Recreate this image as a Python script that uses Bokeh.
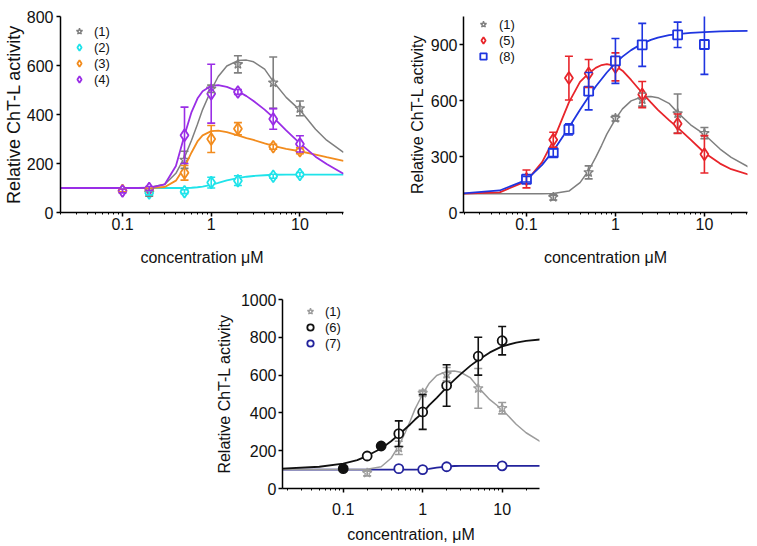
from bokeh.plotting import figure
from bokeh.models import (Range1d, ColumnDataSource, Whisker, TeeHead, Legend, LegendItem,
                          FixedTicker, SingleIntervalTicker, Spacer)
from bokeh.layouts import column, row
from bokeh.embed import file_html
from bokeh.resources import INLINE

FONT = "Liberation Sans"

# ---------------- data ----------------
# sample positions of fitted curves (concentration, uM)
curve_x = [0.017, 0.05, 0.1, 0.15, 0.2, 0.3, 0.4, 0.5, 0.6, 0.7, 0.8, 1, 1.2, 1.5, 2, 2.5, 3, 4, 5, 7, 10, 15, 20, 31]

curve_1 = [100, 100, 100, 100, 102, 115, 160, 225, 295, 360, 420, 500, 555, 598, 620, 622, 615, 585, 535, 470, 418, 340, 295, 245]
curve_2 = [100, 100, 100, 100, 100, 100, 100, 100, 101, 103, 106, 113, 121, 131, 140, 146, 149, 152, 154, 155, 155, 155, 155, 155]
curve_3 = [100, 100, 100, 100, 100, 104, 130, 185, 245, 290, 315, 332, 334, 328, 315, 304, 296, 282, 272, 260, 250, 236, 226, 211]
curve_4 = [100, 100, 100, 100, 101, 115, 190, 315, 410, 465, 495, 517, 520, 513, 495, 475, 455, 420, 388, 335, 282, 228, 198, 158]
curve_5 = [100, 108, 168, 270, 385, 590, 700, 745, 775, 790, 795, 785, 760, 710, 640, 590, 550, 495, 455, 390, 320, 262, 232, 204]
curve_8 = [100, 118, 175, 255, 330, 455, 550, 620, 675, 715, 750, 800, 835, 870, 905, 925, 937, 950, 956, 962, 966, 970, 972, 973]
curve_6 = [105, 115, 132, 150, 173, 212, 250, 285, 315, 340, 365, 400, 440, 480, 535, 575, 605, 650, 680, 720, 752, 772, 781, 789]
curve_7 = [100, 100, 100, 100, 100, 100, 100, 100, 100, 100, 100, 101, 104, 110, 116, 119, 120, 120, 120, 120, 120, 120, 120, 120]

s1_x = [0.2, 0.5, 1, 2, 5, 10]
s1_y = [82, 215, 505, 605, 530, 425]
s1_err = [15, 35, 15, 35, 105, 30]

s2_x = [0.2, 0.5, 1, 2, 5, 10]
s2_y = [80, 85, 122, 130, 148, 155]
s2_err = [8, 8, 22, 20, 8, 8]

s3_x = [0.1, 0.2, 0.5, 1, 2, 5, 10]
s3_y = [90, 95, 162, 300, 342, 268, 252]
s3_err = [5, 5, 30, 55, 25, 10, 12]

s4_x = [0.1, 0.2, 0.5, 1, 2, 5, 10]
s4_y = [88, 98, 315, 485, 492, 382, 280]
s4_err = [8, 8, 115, 120, 10, 42, 33]

s5_x = [0.1, 0.2, 0.3, 0.5, 1, 2, 5, 10]
s5_y = [180, 390, 720, 745, 780, 632, 476, 312]
s5_err = [48, 40, 117, 75, 75, 70, 52, 100]

s8_x = [0.1, 0.2, 0.3, 0.5, 1, 2, 5, 10]
s8_y = [178, 320, 445, 650, 812, 898, 952, 900]
s8_err = [15, 20, 30, 100, 120, 115, 68, 160]

s6_x = [0.1, 0.2, 0.3, 0.5, 1, 2, 5, 10]
s6_y = [105, 172, 225, 290, 405, 545, 700, 782]
s6_err = [0, 0, 0, 68, 92, 110, 100, 75]
s6_filled = [True, False, True, False, False, False, False, False]

s7_x = [0.5, 1, 2, 10]
s7_y = [105, 100, 115, 120]

x_tick_labels = {0.1: "0.1", 1: "1", 10: "10"}

GRAY = "#7f7f7f"
LGRAY = "#9c9c9c"
CYAN = "#1fe3ea"
ORANGE = "#f28c1e"
PURPLE = "#9a2ee6"
RED = "#e8252b"
BLUE = "#1f35e0"
NAVY = "#23239c"
BLACK = "#111111"


def make_fig(width, height, xr, yr, ytick, mb, xlabel, xl_standoff, xt_standoff,
             yl_standoff, yt_standoff, ylabel_size="16px"):
    p = figure(width=width, height=height, x_axis_type="log",
               x_range=Range1d(*xr), y_range=Range1d(*yr),
               output_backend="svg", toolbar_location=None,
               min_border_left=mb[0], min_border_right=mb[1],
               min_border_top=mb[2], min_border_bottom=mb[3])
    p.outline_line_color = None
    p.xgrid.visible = False
    p.ygrid.visible = False
    p.background_fill_color = "white"
    p.border_fill_color = "white"
    minor = [k * 10.0 ** e for e in (-2, -1, 0, 1) for k in range(2, 10)]
    p.xaxis.ticker = FixedTicker(ticks=[0.1, 1, 10], minor_ticks=minor)
    p.xaxis.major_label_overrides = x_tick_labels
    p.yaxis.ticker = SingleIntervalTicker(interval=ytick, num_minor_ticks=0)
    for ax in (p.xaxis[0], p.yaxis[0]):
        ax.axis_line_width = 1.5
        ax.axis_line_color = "black"
        ax.major_tick_line_width = 1.5
        ax.major_tick_line_color = "black"
        ax.minor_tick_line_color = "black"
        ax.minor_tick_line_width = 1
        ax.major_tick_in = 0
        ax.major_tick_out = 4
        ax.minor_tick_in = 0
        ax.minor_tick_out = 2
        ax.major_label_text_font = FONT
        ax.major_label_text_font_size = "16px"
        ax.major_label_text_color = "#111111"
        ax.axis_label_text_font = FONT
        ax.axis_label_text_font_size = "16px"
        ax.axis_label_text_font_style = "normal"
        ax.axis_label_text_color = "#111111"
    p.yaxis.axis_label_text_font_size = ylabel_size
    p.xaxis.axis_label = xlabel
    p.yaxis.axis_label = "Relative ChT-L activity"
    p.xaxis.major_label_standoff = xt_standoff
    p.xaxis.axis_label_standoff = xl_standoff
    p.yaxis.major_label_standoff = yt_standoff
    p.yaxis.axis_label_standoff = yl_standoff
    return p


def series(p, cy, xs, ys, errs, color, marker, size, lw=1.8, curve_lw=1.8, fill="white", filled_mask=None):
    p.line(curve_x, cy, line_color=color, line_width=curve_lw)
    bx = [x for x, e in zip(xs, errs) if e > 0]
    bu = [y + e for y, e in zip(ys, errs) if e > 0]
    bl = [y - e for y, e in zip(ys, errs) if e > 0]
    src = ColumnDataSource(dict(x=bx, upper=bu, lower=bl))
    w = Whisker(source=src, base="x", upper="upper", lower="lower", dimension="height",
                line_color=color, line_width=1.6, level="glyph",
                upper_head=TeeHead(size=8, line_color=color, line_width=1.6),
                lower_head=TeeHead(size=8, line_color=color, line_width=1.6))
    p.add_layout(w)
    if filled_mask is None:
        r = p.scatter(xs, ys, marker=marker, size=size, line_color=color, line_width=lw, fill_color=fill)
        return r
    hx = [x for x, f in zip(xs, filled_mask) if not f]
    hy = [y for y, f in zip(ys, filled_mask) if not f]
    fx = [x for x, f in zip(xs, filled_mask) if f]
    fy = [y for y, f in zip(ys, filled_mask) if f]
    p.scatter(fx, fy, marker=marker, size=size, line_color=color, line_width=lw, fill_color=color)
    r = p.scatter(hx, hy, marker=marker, size=size, line_color=color, line_width=lw, fill_color=fill)
    return r


def add_legend(p, items, loc, standoff, pitch=16):
    lg = Legend(items=[LegendItem(label=l, renderers=[r]) for l, r in items],
                location=loc, orientation="vertical", padding=0, margin=0,
                spacing=0, glyph_width=pitch, glyph_height=pitch, label_height=pitch,
                label_standoff=standoff, label_text_font=FONT, label_text_font_size="13px",
                label_text_color="#111111", background_fill_alpha=0, border_line_alpha=0)
    p.add_layout(lg)


# ---------------- panel 1 ----------------
p1 = make_fig(378, 270, (0.02, 31), (0, 800), 200, (59, 35, 16, 58),
              "concentration \u03bcM", 16, 1, 0, 3, ylabel_size="18px")
r1 = series(p1, curve_1, s1_x, s1_y, s1_err, GRAY, "star", 10, lw=1.3, curve_lw=1.5)
r2 = series(p1, curve_2, s2_x, s2_y, s2_err, CYAN, "diamond", 12)
r3 = series(p1, curve_3, s3_x, s3_y, s3_err, ORANGE, "diamond", 12)
r4 = series(p1, curve_4, s4_x, s4_y, s4_err, PURPLE, "diamond", 12)
add_legend(p1, [("(1)", r1), ("(2)", r2), ("(3)", r3), ("(4)", r4)], (11, 125), 7)

# ---------------- panel 2 ----------------
p2 = make_fig(379, 270, (0.0196, 30.5), (0, 1050), 300, (85, 10, 15, 57),
              "concentration \u03bcM", 16, 1, 2, 2)
q1 = series(p2, curve_1, s1_x, s1_y, s1_err, GRAY, "star", 10, lw=1.3, curve_lw=1.5)
q5 = series(p2, curve_5, s5_x, s5_y, s5_err, RED, "diamond", 12)
q8 = series(p2, curve_8, s8_x, s8_y, s8_err, BLUE, "square", 9)
add_legend(p2, [("(1)", q1), ("(5)", q5), ("(8)", q8)], (12, 148), 8)

# ---------------- panel 3 ----------------
p3 = make_fig(357, 276, (0.0172, 29.5), (0, 1000), 200, (80, 20, 29, 58),
              "concentration, \u03bcM", 8, 10, 5, 2)
t7 = series(p3, curve_7, s7_x, s7_y, [0] * len(s7_x), NAVY, "circle", 9)
t1 = series(p3, curve_1, s1_x, s1_y, s1_err, LGRAY, "star", 10, lw=1.3, curve_lw=1.5)
t6 = series(p3, curve_6, s6_x, s6_y, s6_err, BLACK, "circle", 9, filled_mask=s6_filled)
add_legend(p3, [("(1)", t1), ("(6)", t6), ("(7)", t7)], (20, 137), 7)

layout = column(row(p1, p2), row(Spacer(width=202, height=276), p3))

open("out.html", "w").write(file_html(layout, INLINE))
